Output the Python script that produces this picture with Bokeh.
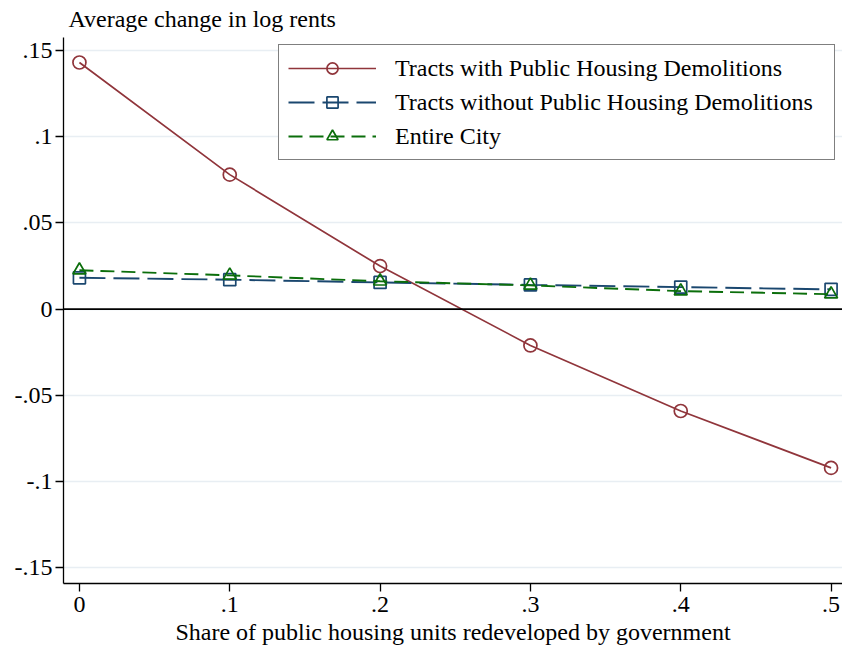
from bokeh.plotting import figure
from bokeh.models import (Range1d, FixedTicker, Legend, LegendItem, Span, Title)
from bokeh.embed import file_html
from bokeh.resources import INLINE

share = [0.0, 0.1, 0.2, 0.3, 0.4, 0.5]
with_demo = [0.143, 0.078, 0.025, -0.021, -0.059, -0.092]
without_demo = [0.0182, 0.0171, 0.0155, 0.0141, 0.0128, 0.0115]
entire_city = [0.0226, 0.0196, 0.0162, 0.0138, 0.0105, 0.0087]

x_ticks = [0, 0.1, 0.2, 0.3, 0.4, 0.5]
x_tick_labels = ["0", ".1", ".2", ".3", ".4", ".5"]
y_ticks = [-0.15, -0.1, -0.05, 0, 0.05, 0.1, 0.15]
y_tick_labels = ["-.15", "-.1", "-.05", "0", ".05", ".1", ".15"]

FONT = "Liberation Serif"
FS = "24px"
RED = "#90353B"
BLUE = "#1A476F"
GREEN = "#0B6E0B"

p = figure(output_backend="svg", toolbar_location=None,
           x_range=Range1d(-0.0106, 0.5076), y_range=Range1d(-0.159, 0.1575),
           min_border_left=63, min_border_right=0, min_border_top=37, min_border_bottom=0,
           frame_width=779, frame_height=546)
p.outline_line_color = None
p.background_fill_color = "white"
p.border_fill_color = "white"

p.title = Title(text="Average change in log rents", align="left", offset=5,
                text_font=FONT, text_font_size=FS, text_font_style="normal",
                text_color="black", standoff=8, vertical_align="top")

# axes
for ax in (p.xaxis[0], p.yaxis[0]):
    ax.axis_line_color = "black"
    ax.axis_line_width = 1.3
    ax.major_tick_line_color = "black"
    ax.major_tick_line_width = 1.3
    ax.major_tick_out = 8
    ax.major_tick_in = 0
    ax.minor_tick_line_color = None
    ax.major_label_text_font = FONT
    ax.major_label_text_font_size = FS
    ax.major_label_text_color = "black"
    ax.axis_label_text_font = FONT
    ax.axis_label_text_font_size = FS
    ax.axis_label_text_font_style = "normal"
    ax.axis_label_text_color = "black"

p.xaxis.ticker = FixedTicker(ticks=x_ticks)
p.xaxis.major_label_overrides = dict(zip(x_ticks, x_tick_labels))
p.xaxis.axis_label = "Share of public housing units redeveloped by government"
p.xaxis.axis_label_standoff = 4
p.xaxis.major_label_standoff = 5
p.yaxis.ticker = FixedTicker(ticks=y_ticks)
p.yaxis.major_label_overrides = dict(zip(y_ticks, y_tick_labels))
p.yaxis.major_label_standoff = 3

p.xgrid.grid_line_color = None
p.ygrid.ticker = FixedTicker(ticks=y_ticks)
p.ygrid.grid_line_color = "#E8EEF3"
p.ygrid.grid_line_width = 1.5

p.add_layout(Span(location=0, dimension="width", line_color="black", line_width=1.8))

l1 = p.line(share, with_demo, line_color=RED, line_width=1.7)
m1 = p.scatter(share, with_demo, marker="circle", size=13, fill_color=None,
               line_color=RED, line_width=1.7)
l2 = p.line(share, without_demo, line_color=BLUE, line_width=1.9, line_dash="26 8")
m2 = p.scatter(share, without_demo, marker="square", size=12, fill_color=None,
               line_color=BLUE, line_width=1.7)
l3 = p.line(share, entire_city, line_color=GREEN, line_width=1.9, line_dash="14 7")
m3 = p.scatter(share, entire_city, marker="triangle", size=13, fill_color=None,
               line_color=GREEN, line_width=1.7)

legend = Legend(items=[
    LegendItem(label="Tracts with Public Housing Demolitions", renderers=[l1, m1]),
    LegendItem(label="Tracts without Public Housing Demolitions", renderers=[l2, m2]),
    LegendItem(label="Entire City", renderers=[l3, m3]),
], location="top_right", margin=7, padding=9, spacing=6,
    glyph_width=88, glyph_height=28, label_standoff=19, label_width=430,
    label_text_font=FONT, label_text_font_size=FS, label_text_color="black",
    border_line_color="black", border_line_width=1.2, background_fill_alpha=1.0)
p.add_layout(legend)

open("out.html", "w").write(file_html(p, INLINE))
